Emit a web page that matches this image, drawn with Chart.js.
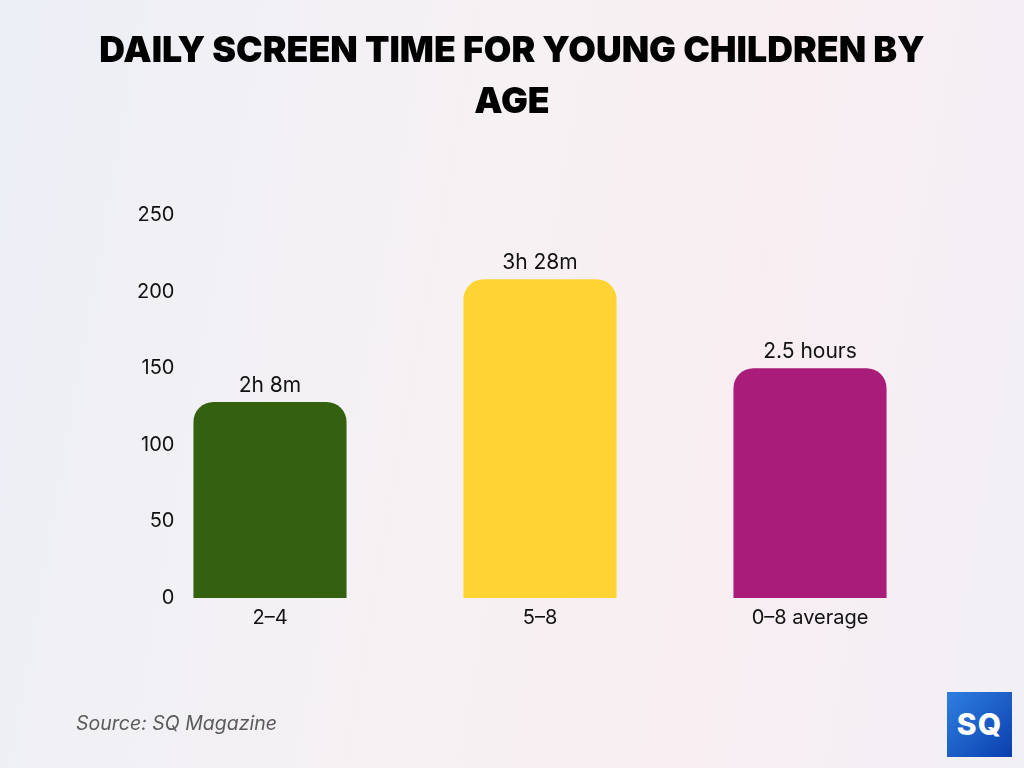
<!DOCTYPE html>
<html>
<head>
<meta charset="utf-8">
<script src="https://cdn.jsdelivr.net/npm/chart.js@4"></script>
<style>
  html, body { margin: 0; padding: 0; }
  body {
    width: 1024px; height: 768px; position: relative; overflow: hidden;
    background: linear-gradient(100deg, #eceff6 0%, #f6f1f3 45%, #f8eef2 70%, #f1eff6 100%);
    font-family: Inter, "Noto Sans", sans-serif;
  }
  #title {
    position: absolute; left: 30px; right: 30px; top: 24px;
    text-align: center; font-weight: 900; font-size: 35.7px; line-height: 51px;
    color: #000;
  }
  #wrap { position: absolute; left: 0; top: 0; width: 1024px; height: 768px; }
  #source {
    position: absolute; left: 76px; top: 711px; font-size: 19.5px; font-style: italic; color: #5a5a5a;
  }
  #logo {
    position: absolute; left: 947px; top: 692px; width: 65px; height: 65px;
    background: linear-gradient(135deg, #2f7fe0, #0a3fae);
    color: #fff; font-weight: 800; font-size: 30px; text-align: center; line-height: 65px;
    letter-spacing: 1px;
  }
</style>
</head>
<body>
<div id="wrap"><canvas id="chart" width="1024" height="768"></canvas></div>
<div id="title">DAILY SCREEN TIME FOR YOUNG CHILDREN BY<br>AGE</div>
<div id="source">Source: SQ Magazine</div>
<div id="logo">SQ</div>
<script>
const categories = ['2–4', '5–8', '0–8 average'];
const minutes = [128, 208, 150];
const valueLabels = ['2h 8m', '3h 28m', '2.5 hours'];
const barColors = ['#33610f', '#ffd332', '#a91c79'];
const yMax = 250;
const yStep = 50;

const fontFamily = 'Inter, "Noto Sans", sans-serif';

// labels above each bar
const topLabels = {
    id: 'topLabels',
    afterDatasetsDraw(chart) {
        const ctx = chart.ctx;
        const meta = chart.getDatasetMeta(0);
        ctx.save();
        ctx.font = '21px ' + fontFamily;
        ctx.fillStyle = '#111';
        ctx.textAlign = 'center';
        ctx.textBaseline = 'bottom';
        meta.data.forEach((bar, i) => {
            ctx.fillText(valueLabels[i], bar.x, bar.y - 6);
        });
        ctx.restore();
    }
};

new Chart(document.getElementById('chart'), {
    type: 'bar',
    data: {
        labels: categories,
        datasets: [{
            data: minutes,
            backgroundColor: barColors,
            borderRadius: { topLeft: 20, topRight: 20 },
            borderSkipped: 'bottom',
            barPercentage: 0.567,
            categoryPercentage: 1
        }]
    },
    options: {
        responsive: false,
        animation: false,
        layout: { padding: { left: 0, right: 79, top: 215, bottom: 130 } },
        plugins: { legend: { display: false }, tooltip: { enabled: false }, title: { display: false } },
        scales: {
            x: {
                grid: { display: false, drawTicks: false },
                border: { display: false },
                afterFit: s => { s.height = 40; },
                ticks: { color: '#111', font: { size: 20, family: fontFamily }, padding: 8 }
            },
            y: {
                min: 0, max: yMax,
                afterFit: s => { s.width = 135; },
                grid: { display: false, drawTicks: false },
                border: { display: false },
                ticks: {
                    stepSize: yStep, color: '#111', font: { size: 20, family: fontFamily },
                    mirror: true, crossAlign: 'far', padding: 2
                }
            }
        }
    },
    plugins: [topLabels]
});
</script>
</body>
</html>
